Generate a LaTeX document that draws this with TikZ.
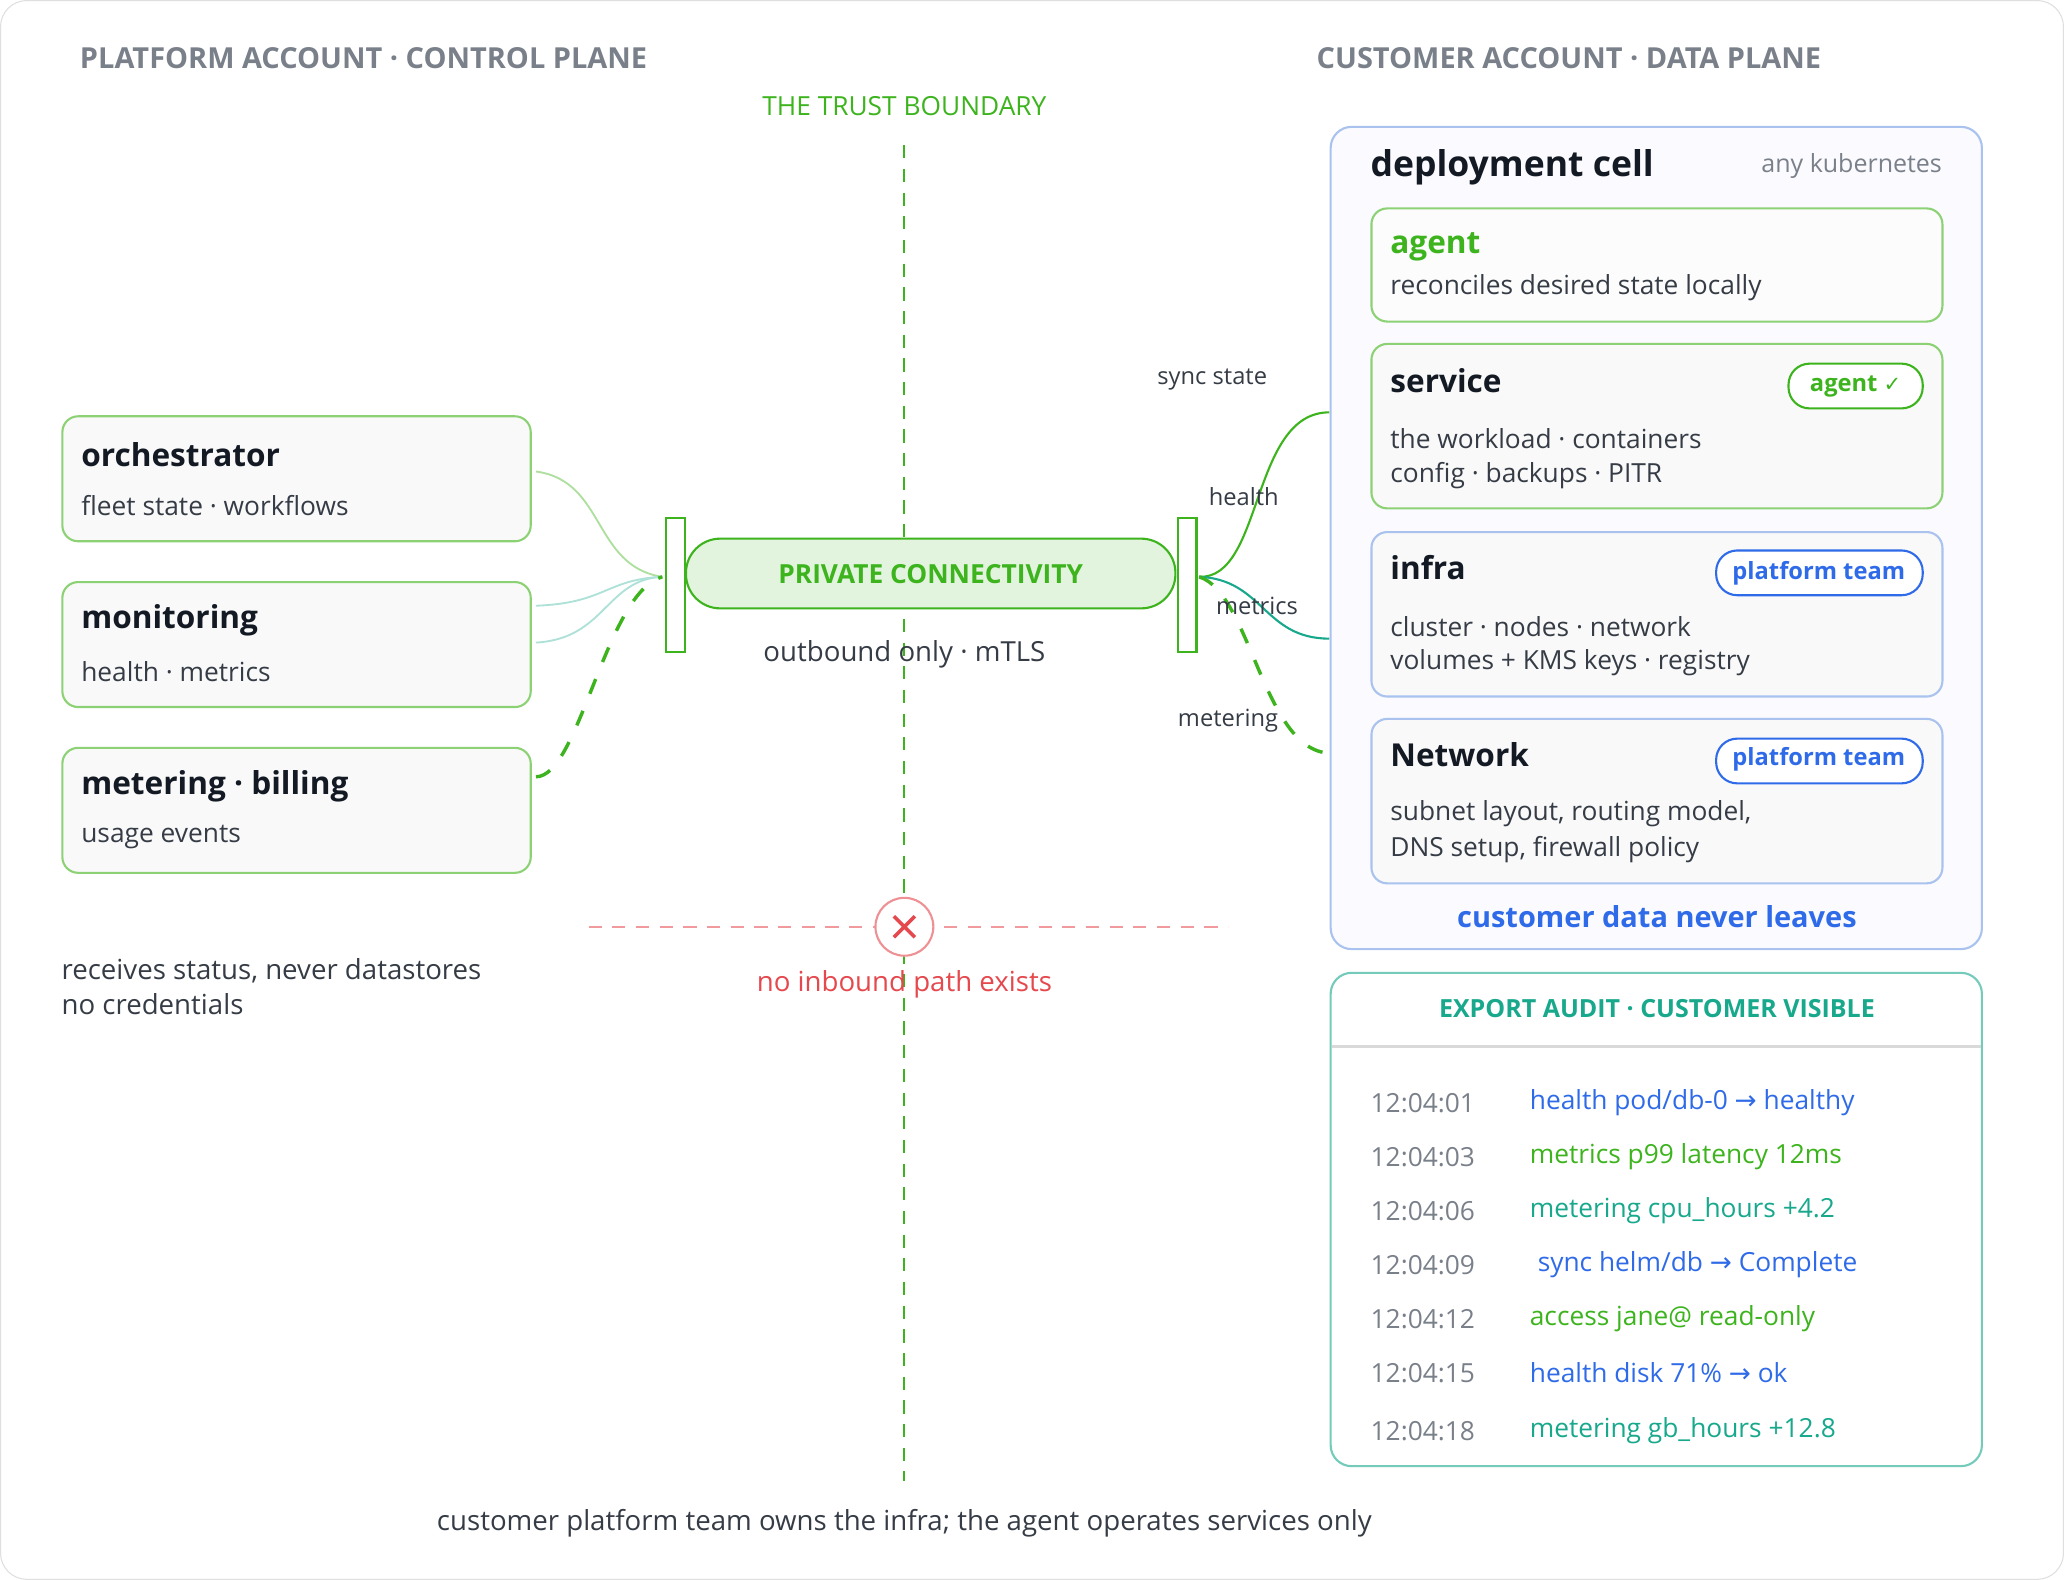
\documentclass[tikz,border=0pt]{standalone}
\usepackage{fontspec}
\setmainfont{Open Sans}
\newfontfamily\dvs{DejaVu Sans}
\begin{document}
\definecolor{gr}{HTML}{3DB41E}
\definecolor{lgr}{HTML}{8CD275}
\definecolor{bl}{HTML}{2F6BE8}
\definecolor{lbl}{HTML}{A9C2EE}
\definecolor{tl}{HTML}{18A88C}
\definecolor{rd}{HTML}{E5484D}
\definecolor{gy}{HTML}{7A808A}
\definecolor{dk}{HTML}{141A24}
\definecolor{tx}{HTML}{363C46}
\begin{tikzpicture}[x=0.5pt,y=-0.5pt,
 box/.style={draw=lgr,line width=0.8pt,rounded corners=6pt,fill=gray!5},
 ttl/.style={anchor=west,inner sep=0pt,font=\fontsize{12}{14}\selectfont\bfseries,text=dk},
 sub/.style={anchor=west,inner sep=0pt,font=\fontsize{10}{12}\selectfont,text=tx},
 lab/.style={font=\fontsize{9}{11}\selectfont,text=tx},
 hdr/.style={anchor=west,inner sep=0pt,font=\fontsize{11}{13}\selectfont\bfseries,text=gy},
 badge/.style={draw=#1,line width=0.8pt,rounded corners=8pt,fill=white},
 tm/.style={anchor=west,inner sep=0pt,font=\fontsize{10}{12}\selectfont,text=gy},
 ev/.style={anchor=west,inner sep=0pt,font=\fontsize{10}{12}\selectfont,text=#1}]
\draw[gray!25,rounded corners=10pt,fill=white] (0,0) rectangle (1568,1200);
\node[hdr] (h1) at (60,44) {PLATFORM ACCOUNT · CONTROL PLANE};
\node[hdr] (h2) at (1000,44) {CUSTOMER ACCOUNT · DATA PLANE};
\node[text=gr,font=\fontsize{10}{12}\selectfont] (tb) at (687,80) {THE TRUST BOUNDARY};
\coordinate (vt) at (687,110); \coordinate (vb) at (687,1125);
\draw[gr,dashed,line width=0.8pt,dash pattern=on 5pt off 4pt] (vt) -- (vb);
% left boxes
\draw[box] (47,316) rectangle (403,411);
\node[ttl] (o1) at (61,345) {orchestrator};
\node[sub] (o2) at (61,384) {fleet state · workflows};
\draw[box] (47,442) rectangle (403,537);
\node[ttl] (m1) at (61,471) {monitoring};
\node[sub] (m2) at (61,510) {health · metrics};
\draw[box] (47,568) rectangle (403,663);
\node[ttl] (b1) at (61,597) {metering · billing};
\node[sub] (b2) at (61,636) {usage events};
\node[sub,align=left,anchor=north west,font=\fontsize{10.5}{13}\selectfont] (rs) at (46,728) {receives status, never datastores\\no credentials};
% connectivity
\draw[gr,line width=0.8pt,fill=white] (506,393) rectangle (520,495);
\draw[gr,line width=0.8pt,fill=white] (895,393) rectangle (909,495);
\draw[gr,line width=0.8pt,fill=gr!15,rounded corners=13pt] (521,409) rectangle (893,462);
\node[text=gr,font=\fontsize{10}{12}\selectfont\bfseries] (pc) at (707,436) {PRIVATE CONNECTIVITY};
\node[font=\fontsize{10.5}{12}\selectfont,text=tx] (ob) at (687,497) {outbound only · mTLS};
\coordinate (L) at (503,438); \coordinate (R) at (911,438);
\coordinate (oo) at (407,358); \coordinate (mo1) at (407,460); \coordinate (mo2) at (407,488); \coordinate (bo) at (407,590);
\draw[lgr!70,line width=0.7pt] (oo) .. controls (460,365) and (450,430) .. (L);
\draw[tl!35,line width=0.7pt] (mo1) .. controls (460,458) and (460,440) .. (L);
\draw[tl!35,line width=0.7pt] (mo2) .. controls (460,485) and (460,440) .. (L);
\draw[gr,line width=1.3pt,dash pattern=on 6pt off 7pt] (bo) .. controls (440,590) and (460,450) .. (L);
\coordinate (s1) at (1010,313); \coordinate (s2) at (1010,485); \coordinate (s3) at (1010,572);
\draw[gr,line width=0.8pt] (R) .. controls (960,440) and (950,313) .. (s1);
\draw[tl,line width=0.8pt] (R) .. controls (960,440) and (960,485) .. (s2);
\draw[gr,line width=1.3pt,dash pattern=on 6pt off 7pt] (R) .. controls (950,450) and (960,570) .. (s3);
\node[lab] (l1) at (921,288) {sync state};
\node[lab] (l2) at (945,377) {health};
\node[lab] (l3) at (955,460) {metrics};
\node[lab] (l4) at (933,547) {metering};
% no inbound
\coordinate (ra) at (447,704); \coordinate (rb) at (933,704);
\draw[rd!55,dash pattern=on 5pt off 4pt,line width=0.7pt] (ra) -- (rb);
\node[circle,draw=rd!60,line width=0.8pt,fill=white,minimum size=22pt] (x) at (687,704) {};
\draw[rd,line width=1.3pt] (679,696) -- (695,712) (695,696) -- (679,712);
\node[text=rd,font=\fontsize{10.5}{12}\selectfont] (ni) at (687,748) {no inbound path exists};
\node[font=\fontsize{10.5}{12}\selectfont,text=tx] (ft) at (687,1157) {customer platform team owns the infra; the agent operates services only};
% deployment cell
\draw[draw=lbl,line width=0.8pt,rounded corners=8pt,fill=blue!2] (1011,96) rectangle (1506,721);
\node[anchor=west,inner sep=0pt,font=\fontsize{13.5}{15}\selectfont\bfseries,text=dk] (dc) at (1041,127) {deployment cell};
\node[anchor=east,inner sep=0pt,font=\fontsize{9.5}{11}\selectfont,text=gy] (ak) at (1476,126) {any kubernetes};
\draw[box,fill=white!60!gray!5] (1042,158) rectangle (1476,244);
\node[ttl,text=gr] (a1) at (1056,187) {agent};
\node[sub] (a2) at (1056,218) {reconciles desired state locally};
\draw[box] (1042,261) rectangle (1476,386);
\node[ttl] (sv) at (1056,289) {service};
\draw[badge=gr] (1359,276) rectangle (1461,310);
\node[text=gr,font=\fontsize{9}{11}\selectfont\bfseries] (ab) at (1410,293) {agent {\dvs\fontsize{8}{10}\selectfont ✓}};
\node[sub] (sv1) at (1056,333) {the workload · containers};
\node[sub] (sv2) at (1056,361) {config · backups · PITR};
\draw[box,draw=lbl] (1042,404) rectangle (1476,529);
\node[ttl] (in) at (1056,431) {infra};
\draw[badge=bl] (1304,418) rectangle (1461,452);
\node[text=bl,font=\fontsize{9}{11}\selectfont\bfseries] (pt1) at (1382,435) {platform team};
\node[sub] (in1) at (1056,476) {cluster · nodes · network};
\node[sub] (in2) at (1056,503) {volumes + KMS keys · registry};
\draw[box,draw=lbl] (1042,546) rectangle (1476,671);
\node[ttl] (nw) at (1056,573) {Network};
\draw[badge=bl] (1304,561) rectangle (1461,595);
\node[text=bl,font=\fontsize{9}{11}\selectfont\bfseries] (pt2) at (1382,577) {platform team};
\node[sub] (nw1) at (1056,618) {subnet layout, routing model,};
\node[sub] (nw2) at (1056,645) {DNS setup, firewall policy};
\node[text=bl,font=\fontsize{11}{13}\selectfont\bfseries] (cd) at (1259,696) {customer data never leaves};
% audit
\draw[draw=tl!60,line width=0.8pt,rounded corners=8pt,fill=white] (1011,739) rectangle (1506,1114);
\draw[gray!30,line width=0.8pt] (1012,795) -- (1505,795);
\node[text=tl,font=\fontsize{9.5}{11}\selectfont\bfseries] (ea) at (1259,766) {EXPORT AUDIT · CUSTOMER VISIBLE};
\node[tm] at (1041,838) {12:04:01}; \node[ev=bl] at (1162,838) {health pod/db-0 {\dvs →} healthy};
\node[tm] at (1041,879) {12:04:03}; \node[ev=gr] at (1162,879) {metrics p99 latency 12ms};
\node[tm] at (1041,920) {12:04:06}; \node[ev=tl] at (1162,920) {metering cpu\_hours +4.2};
\node[tm] at (1041,961) {12:04:09}; \node[ev=bl] at (1168,961) {sync helm/db {\dvs →} Complete};
\node[tm] at (1041,1002) {12:04:12}; \node[ev=gr] at (1162,1002) {access jane@ read-only};
\node[tm] at (1041,1043) {12:04:15}; \node[ev=bl] at (1162,1043) {health disk 71\% {\dvs →} ok};
\node[tm] at (1041,1087) {12:04:18}; \node[ev=tl] at (1162,1087) {metering gb\_hours +12.8};
\end{tikzpicture}
\end{document}
